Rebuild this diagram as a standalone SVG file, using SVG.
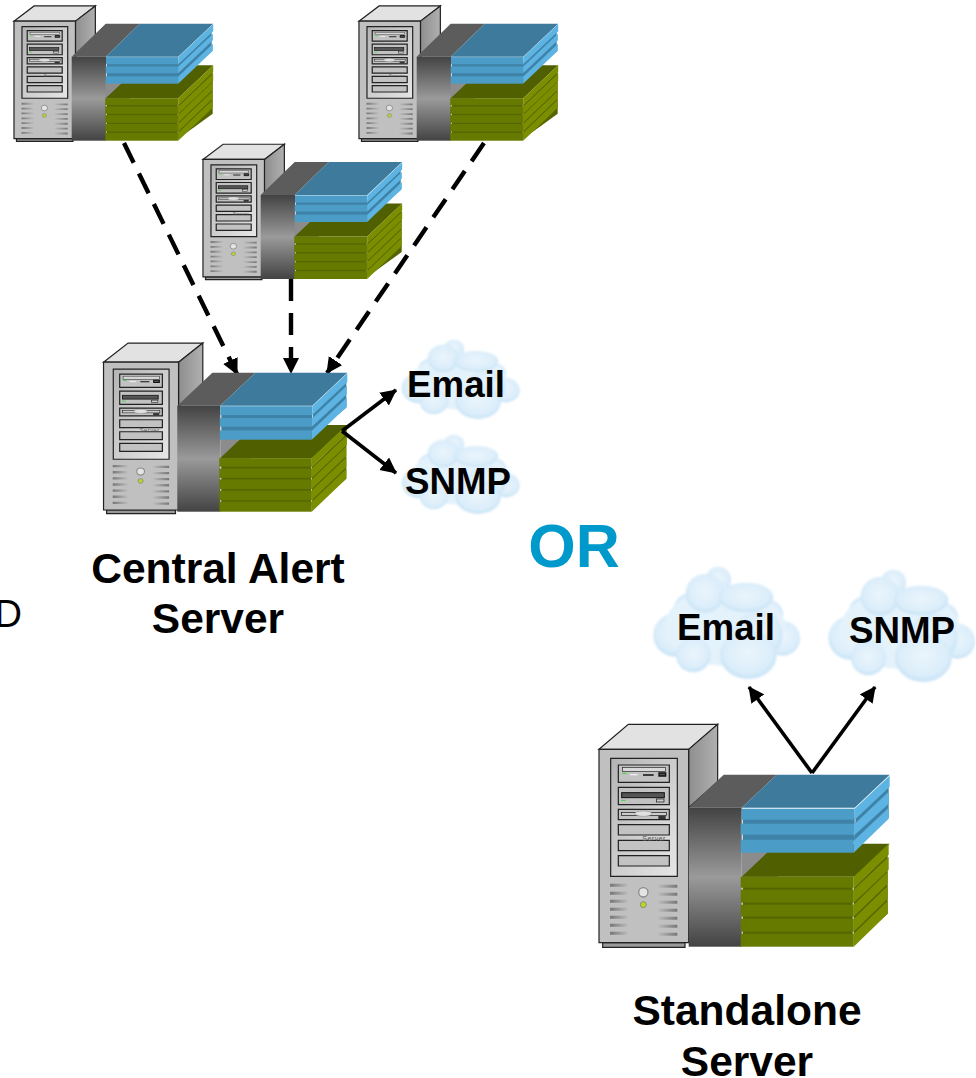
<svg xmlns="http://www.w3.org/2000/svg" width="976" height="1078" viewBox="0 0 976 1078">
<style>
text{font-family:"Liberation Sans",Arial,sans-serif;font-weight:bold;fill:#000;text-anchor:middle}
.lbl{font-size:42.5px}
.cl{font-size:36.7px}
.or{font-size:61px;fill:#0099cc}
.d{font-size:38px;font-weight:normal;text-anchor:start}
.srv{font-size:21px;font-weight:normal;fill:#555;letter-spacing:1.5px;text-anchor:start}
.conn{fill:none;stroke:#000;stroke-width:3.6}
.dash{stroke-dasharray:22 12;stroke-width:4.4}
.o{stroke:#222;stroke-width:1.2;vector-effect:non-scaling-stroke}
.bay{fill:#c2c2c2;stroke:#222;stroke-width:1.2;vector-effect:non-scaling-stroke}
.ct{fill:#5c5c5c}.cf{fill:url(#conn)}.cb{fill:#8c8c8c}
.bt{fill:#3e7a9c}.bl{fill:#4b9dc8}.bd{fill:#3f82a8}.br{fill:#5db4e2}
.gt{fill:#505f00}.gf{fill:#667a00}.gd{fill:#556500}.gr{fill:#7a8e00}
.v{stroke:url(#vent);stroke-width:9;fill:none}
</style>
<defs>
<linearGradient id="conn" x1="0" y1="0" x2="0" y2="1"><stop offset="0" stop-color="#434343"/><stop offset=".5" stop-color="#9a9a9a"/><stop offset="1" stop-color="#434343"/></linearGradient>
<linearGradient id="panel" x1="0" y1="0" x2="1" y2="1"><stop offset="0" stop-color="#b4b4b4"/><stop offset="1" stop-color="#e6e6e6"/></linearGradient>
<linearGradient id="side" x1="0" y1="0" x2="1" y2="0"><stop offset="0" stop-color="#8e8e8e"/><stop offset="1" stop-color="#b0b0b0"/></linearGradient>
<linearGradient id="vent" gradientUnits="userSpaceOnUse" x1="60" y1="0" x2="262" y2="0"><stop offset="0" stop-color="#777"/><stop offset=".28" stop-color="#c0c0c0"/><stop offset=".7" stop-color="#c0c0c0"/><stop offset="1" stop-color="#777"/></linearGradient>
<radialGradient id="puff" cx=".5" cy=".45" r=".55"><stop offset="0" stop-color="#eaf5fc"/><stop offset=".75" stop-color="#dcEEfa"/><stop offset="1" stop-color="#c6e2f6"/></radialGradient>
<filter id="soft" x="-5%" y="-5%" width="110%" height="110%"><feGaussianBlur stdDeviation="3.500"/></filter>
<marker id="ah" markerUnits="userSpaceOnUse" markerWidth="18" markerHeight="18" refX="15" refY="8" orient="auto"><path d="M0 0L16 8L0 16Z" fill="#000"/></marker>
<g id="tower">
<path class="o" d="M27 103L115 28H383L296 103Z" fill="#e2e2e2"/>
<path class="o" d="M296 103L383 28V200L296 278Z" fill="url(#side)"/>
<path class="o" d="M38 683H285V697H38Z" fill="#9a9a9a"/>
<rect class="o" x="27" y="103" width="269" height="580" fill="#c0c0c0"/>
<rect class="o" x="62" y="130" width="200" height="354" fill="url(#panel)"/>
<rect class="bay" x="85" y="150" width="153" height="52"/>
<rect class="bay" x="85" y="217" width="153" height="52"/>
<rect class="bay" x="85" y="283" width="153" height="31"/>
<rect class="bay" x="85" y="329" width="153" height="31"/>
<rect class="bay" x="85" y="376" width="153" height="31"/>
<rect class="bay" x="85" y="422" width="153" height="31"/>
<rect x="97" y="158" width="130" height="12" fill="#d8d8d8" stroke="#222" stroke-width="2"/>
<path d="M97 175H110" stroke="#2ddc2d" stroke-width="3"/>
<path d="M120 179H143" stroke="#eee" stroke-width="4"/>
<path d="M159 180H191M207 174H227V183H207Z" fill="#555" stroke="#111" stroke-width="4"/>
<rect x="95" y="233" width="128" height="15" fill="#555" stroke="#111" stroke-width="3"/>
<rect x="199" y="252" width="23" height="9" fill="#ccc" stroke="#111" stroke-width="2"/>
<path d="M94 256H107" stroke="#2ddc2d" stroke-width="3"/>
<rect x="95" y="293" width="134" height="9" fill="#ccc" stroke="#111" stroke-width="2"/>
<ellipse cx="160" cy="296" rx="26" ry="8" fill="#e0e0e0" stroke="#666"/>
<rect x="205" y="303" width="22" height="9" fill="#333"/>
<text class="srv" x="157" y="378">Server</text>
<path class="v" d="M60 511H118M60 535H118M60 559H118M60 583H118M60 607H118M60 631H118M60 655H118M202 514H262M202 538H262M202 562H262M202 586H262M202 610H262M202 634H262M202 658H262"/>
<circle cx="160" cy="532" r="14" fill="#e4e4e4" stroke="#8a8a8a" stroke-width="4"/>
<circle cx="160" cy="569" r="9" fill="#b8d820" stroke="#888" stroke-width="3"/>
</g>
<g id="stack-large">
<path class="ct" d="M0 0L35 -33H88L53 0Z"/>
<rect class="cf" width="53" height="139"/>
<rect class="cb" x="53" y="40" width="36" height="30"/>
<path class="gt" d="M53 69L88 36H201L166 69Z"/>
<rect class="gd" x="54" y="75" width="110" height="58"/>
<path class="gd" d="M165 80L199 47V106L165 135Z"/>
<rect class="gf" x="52" y="69" width="113" height="11"/>
<rect class="gf" x="52" y="82" width="113" height="13"/>
<rect class="gf" x="52" y="97" width="113" height="12"/>
<rect class="gf" x="52" y="111" width="113" height="13"/>
<rect class="gf" x="52" y="126" width="113" height="13"/>
<path class="gr" d="M165 69L200 36V47L165 80Z"/>
<path class="gr" d="M165 82L200 49V62L165 95Z"/>
<path class="gr" d="M165 97L199 64V76L165 109Z"/>
<path class="gr" d="M165 111L199 78V91L165 124Z"/>
<path class="gr" d="M165 126L199 93V106L165 139Z"/>
<path class="bt" d="M53 0L88 -33H201L166 0Z"/>
<rect class="bd" x="54" y="10" width="112" height="24"/>
<path class="bd" d="M167 8L200 -23V10L165 40Z"/>
<rect class="bl" x="53" y="1" width="113" height="11"/>
<rect class="bl" x="52" y="16" width="113" height="11"/>
<rect class="bl" x="52" y="32" width="113" height="13"/>
<path class="br" d="M166 1L201 -32V-21L166 12Z"/>
<path class="br" d="M165 17L200 -16V-4L165 28Z"/>
<path class="br" d="M165 33L200 0V11L165 45Z"/>
</g>
<g id="stack-central">
<path class="ct" d="M0 0L35 -33H78L43 0Z"/>
<rect class="cf" width="43" height="106"/>
<rect class="cb" x="43" y="30" width="30" height="24"/>
<path class="gt" d="M43 52.400L78 19.400H170L135 52.400Z"/>
<rect class="gd" x="44" y="58" width="90" height="42"/>
<path class="gd" d="M134.500 61L169 28V73L135 102Z"/>
<rect class="gf" x="42" y="52.400" width="92.500" height="8.600"/>
<rect class="gf" x="42" y="62.800" width="92.500" height="9.400"/>
<rect class="gf" x="42" y="73.700" width="92.500" height="9.700"/>
<rect class="gf" x="42" y="84.900" width="92.500" height="9.700"/>
<rect class="gf" x="42" y="96" width="92.500" height="10"/>
<path class="gr" d="M134.500 52.400L169.500 19.400V28L134.500 61Z"/>
<path class="gr" d="M134.500 62.800L169.500 29.800V39.200L134.500 72.200Z"/>
<path class="gr" d="M134.500 73.700L169 40.700V50.400L134.500 83.400Z"/>
<path class="gr" d="M134.500 84.900L169 51.900V61.600L134.500 94.600Z"/>
<path class="gr" d="M134.500 96L169 63V73L134.500 106Z"/>
<path class="bt" d="M43 0L78 -33H170L135 0Z"/>
<rect class="bd" x="44" y="7" width="91" height="19"/>
<path class="bd" d="M136 6L169 -25V2L134 30Z"/>
<rect class="bl" x="43" y=".5" width="92" height="8.900"/>
<rect class="bl" x="42.500" y="12.400" width="92" height="8.500"/>
<rect class="bl" x="42.500" y="24.700" width="92" height="9.300"/>
<path class="br" d="M135 .5L170 -32.500V-23.600L135 9.400Z"/>
<path class="br" d="M134.500 13L169.500 -20V-11.500L134.500 21Z"/>
<path class="br" d="M134.500 25L169.500 -8V1L134.500 34Z"/>
</g>
<g id="stack-small">
<path class="ct" d="M0 0L34 -33H68L34 0Z"/>
<rect class="cf" width="34.300" height="84"/>
<rect class="cb" x="34" y="24" width="24" height="20"/>
<path class="gt" d="M34 41.500L69 8.500H141.500L106.500 41.500Z"/>
<rect class="gd" x="35" y="46" width="71" height="34"/>
<path class="gd" d="M106.500 48L141 15V57L106.500 82Z"/>
<rect class="gf" x="33.500" y="41.500" width="73" height="6.900"/>
<rect class="gf" x="33.500" y="49.700" width="73" height="7.500"/>
<rect class="gf" x="33.500" y="58.400" width="73" height="7.700"/>
<rect class="gf" x="33.500" y="67.300" width="73" height="7.600"/>
<rect class="gf" x="33.500" y="76.100" width="73" height="7.900"/>
<path class="gr" d="M106.500 41.500L141.500 8.500V15.400L106.500 48.400Z"/>
<path class="gr" d="M106.500 49.700L141.500 16.700V24.200L106.500 57.200Z"/>
<path class="gr" d="M106.500 58.400L141 25.400V33.100L106.500 66.100Z"/>
<path class="gr" d="M106.500 67.300L141 34.300V41.900L106.500 74.900Z"/>
<path class="gr" d="M106.500 76.100L141 43.100V51L106.500 84Z"/>
<path class="bt" d="M34 0L68 -33H141.500L106.500 0Z"/>
<rect class="bd" x="35" y="6" width="72" height="15"/>
<path class="bd" d="M107 5L140 -26V-5L106 23Z"/>
<rect class="bl" x="34.300" y=".4" width="72.400" height="7.100"/>
<rect class="bl" x="34" y="9.800" width="72.400" height="6.700"/>
<rect class="bl" x="34" y="19.600" width="72.400" height="7.400"/>
<path class="br" d="M106.700 .4L141.500 -32.600V-25.500L106.700 7.500Z"/>
<path class="br" d="M106.400 10L141.200 -23V-16.500L106.400 16.500Z"/>
<path class="br" d="M106.400 20L141.200 -13V-6L106.400 27Z"/>
</g>
<g id="cloud">
<g filter="url(#soft)">
<circle cx="105" cy="225" r="65" fill="url(#puff)"/>
<circle cx="428" cy="235" r="52" fill="url(#puff)"/>
<circle cx="235" cy="58" r="38" fill="url(#puff)"/>
<circle cx="150" cy="150" r="50" fill="#d5eaf9"/>
<circle cx="385" cy="165" r="45" fill="#d5eaf9"/>
<ellipse cx="255" cy="200" rx="180" ry="118" fill="#e4f2fb"/>
<circle cx="160" cy="285" r="52" fill="url(#puff)"/>
<circle cx="355" cy="225" r="72" fill="url(#puff)"/>
<circle cx="195" cy="100" r="58" fill="url(#puff)"/>
<ellipse cx="318" cy="112" rx="82" ry="44" fill="url(#puff)"/>
<ellipse cx="325" cy="285" rx="85" ry="72" fill="url(#puff)"/>
</g>
</g>
</defs>
<g id="connectors">
<path class="conn dash" marker-end="url(#ah)" d="M124 143L237 374"/>
<path class="conn dash" marker-end="url(#ah)" d="M291 279V373"/>
<path class="conn dash" marker-end="url(#ah)" d="M484 143L327 373"/>
</g>
<g id="server-left"><use href="#tower" transform="translate(7.800,.3) scale(.2286,.2024)"/><use href="#stack-small" x="71.700" y="56.700"/></g>
<g id="server-right"><use href="#tower" transform="translate(352.800,.3) scale(.2286,.2024)"/><use href="#stack-small" x="416.700" y="56.700"/></g>
<g id="server-middle"><use href="#tower" transform="translate(196.800,138.600) scale(.2286,.2024)"/><use href="#stack-small" x="260.700" y="195"/></g>
<g id="central-server"><use href="#tower" transform="translate(96,335.900) scale(.2789,.2549)"/><use href="#stack-central" x="177.300" y="405.700"/></g>
<g id="standalone-server"><use href="#tower" transform="translate(590,715) scale(.3333)"/><use href="#stack-large" x="688.700" y="807.700"/></g>
<g id="connectors-solid">
<path class="conn" marker-end="url(#ah)" d="M342 431L396 390"/>
<path class="conn" marker-end="url(#ah)" d="M342 431L396 473"/>
<path class="conn" marker-end="url(#ah)" d="M812 773L749 687"/>
<path class="conn" marker-end="url(#ah)" d="M812 773L875 687"/>
</g>
<g id="central-email"><use href="#cloud" transform="translate(391,335) scale(.268,.235)"/><text class="cl" x="456" y="397">Email</text></g>
<g id="central-snmp"><use href="#cloud" transform="translate(391,430) scale(.268,.235)"/><text class="cl" x="458" y="494">SNMP</text></g>
<g id="standalone-email"><use href="#cloud" transform="translate(640,560) scale(.3333)"/><text class="cl" x="726" y="640">Email</text></g>
<g id="standalone-snmp"><use href="#cloud" transform="translate(815,563) scale(.3333)"/><text class="cl" x="902" y="643">SNMP</text></g>
<text class="lbl" x="218" y="583">Central Alert</text>
<text class="lbl" x="218" y="633">Server</text>
<text class="lbl" x="747" y="1025">Standalone</text>
<text class="lbl" x="747" y="1076">Server</text>
<text class="or" x="574" y="567">OR</text>
<text class="d" x="-5.400" y="627">D</text>
</svg>
